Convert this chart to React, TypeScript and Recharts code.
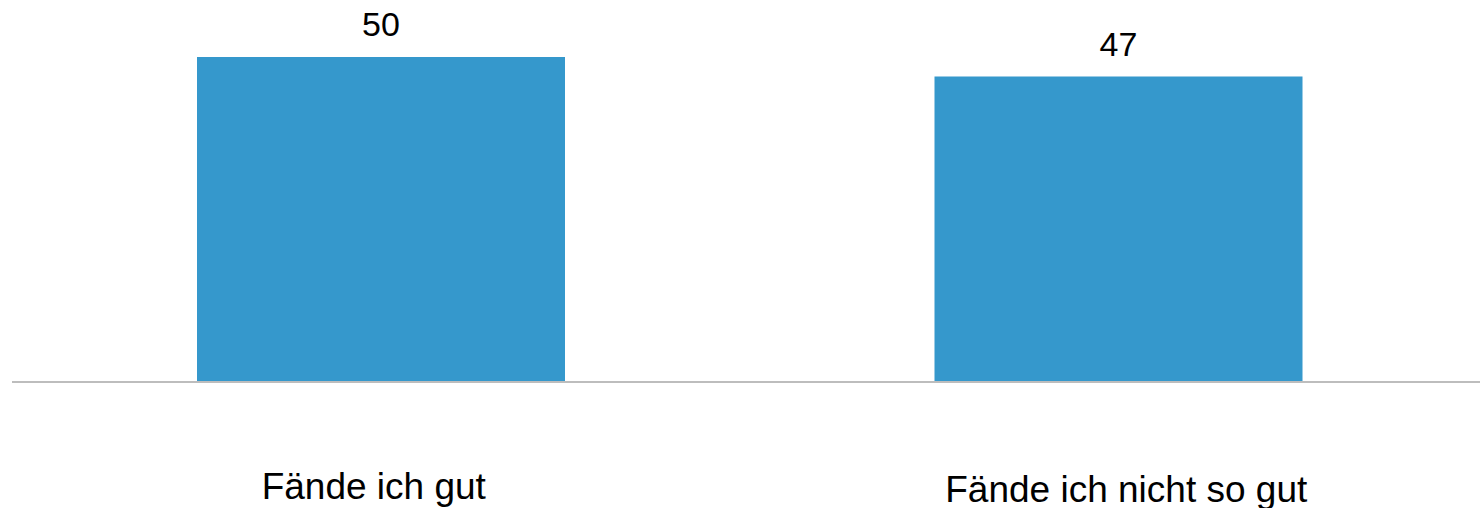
import { BarChart, Bar, XAxis, YAxis, LabelList } from "recharts";

const categories = ["Fände ich gut", "Fände ich nicht so gut"];
const values = [50, 47];

const data = categories.map((name, i) => ({ name, value: values[i] }));

const FONT = '"Liberation Sans", Arial, sans-serif';

// small nudges so the labels sit where the original put them
const tickShift = [
  { dx: -7, dy: 109 },
  { dx: 8, dy: 112 },
];

function CategoryTick(props: any) {
  const { x, y, payload, index } = props;
  const s = tickShift[index] || { dx: 0, dy: 109 };
  return (
    <text
      x={x + s.dx}
      y={y + s.dy}
      textAnchor="middle"
      fontFamily={FONT}
      fontSize={37}
      fill="#000"
    >
      {payload.value}
    </text>
  );
}

export default function App() {
  return (
    <div
      style={{
        position: "absolute",
        left: 0,
        top: 0,
        width: 1480,
        height: 508,
        overflow: "hidden",
        background: "#fff",
      }}
    >
      <BarChart
        width={1487}
        height={508}
        data={data}
        margin={{ top: 57, right: 0, bottom: 0, left: 12 }}
      >
        <XAxis
          dataKey="name"
          height={126}
          tickLine={false}
          axisLine={{ stroke: "#bdbdbd", strokeWidth: 2 }}
          tick={<CategoryTick />}
          interval={0}
        />
        <YAxis hide domain={[0, 50]} />
        <Bar dataKey="value" fill="#3598CC" barSize={368} isAnimationActive={false}>
          <LabelList
            dataKey="value"
            position="top"
            offset={21}
            style={{ fontFamily: FONT, fontSize: 34, fill: "#000" }}
          />
        </Bar>
      </BarChart>
    </div>
  );
}
